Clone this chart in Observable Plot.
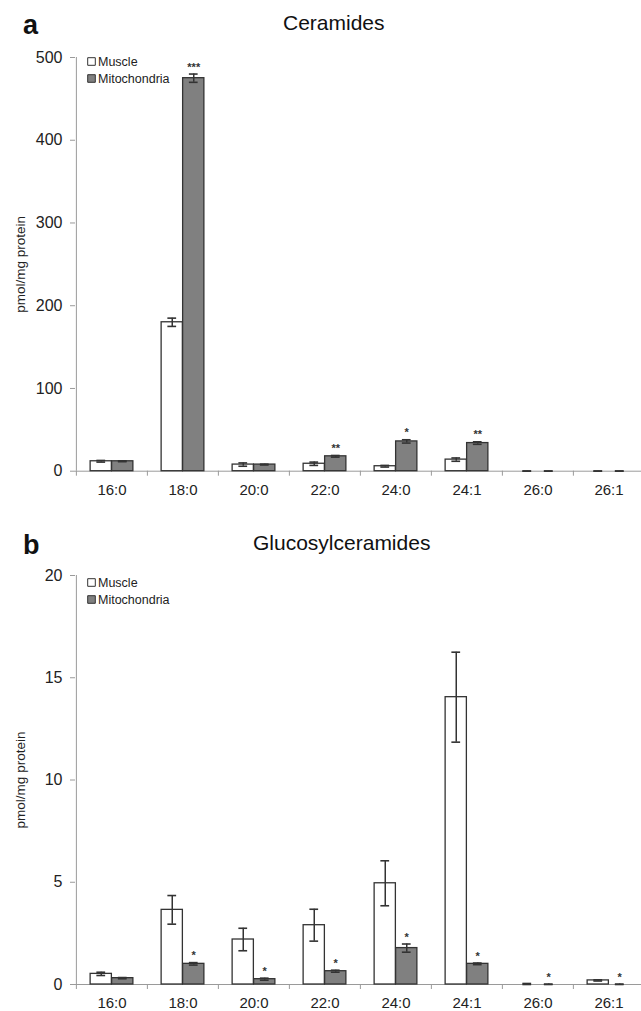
<!DOCTYPE html>
<html><head><meta charset="utf-8">
<script src="https://cdn.jsdelivr.net/npm/d3@7"></script>
<script src="https://cdn.jsdelivr.net/npm/@observablehq/plot@0.6"></script>
<style>
body{margin:0;background:#fff;font-family:"Liberation Sans",Arial,sans-serif;}
#wrap{position:relative;width:641px;height:1011px;overflow:hidden;}
.panel{position:absolute;left:0;width:641px;z-index:1;}
.letter{position:absolute;font-weight:bold;font-size:27px;line-height:27px;color:#111;z-index:2;}
.title{position:absolute;font-size:21px;line-height:21px;color:#111;z-index:2;}
</style></head>
<body><div id="wrap">
<div class="panel" id="pa" style="top:0px"></div>
<div class="panel" id="pb" style="top:505px"></div>
<div class="letter" style="left:23px;top:12px">a</div>
<div class="title" style="left:283px;top:12px">Ceramides</div>
<div class="letter" style="left:23px;top:532px">b</div>
<div class="title" style="left:253px;top:532px">Glucosylceramides</div>
</div>
<script>
const categories = ["16:0","18:0","20:0","22:0","24:0","24:1","26:0","26:1"];
const series = ["Muscle","Mitochondria"];

const ceramideMuscle    = [12, 180, 8, 9, 6, 14, 0, 0];
const ceramideMuscleErr = [1, 5, 2, 2, 1, 2, 0.3, 0.3];
const ceramideMito      = [12, 475, 8, 18, 36, 34, 0, 0];
const ceramideMitoErr   = [0.5, 5, 0.5, 1, 2, 1.5, 0.3, 0.3];
const ceramideStars     = ["", "***", "", "**", "*", "**", "", ""];
const ceramideTicks     = [0, 100, 200, 300, 400, 500];

const glucMuscle    = [0.52, 3.65, 2.2, 2.9, 4.95, 14.05, 0, 0.2];
const glucMuscleErr = [0.08, 0.7, 0.55, 0.78, 1.1, 2.2, 0.05, 0.03];
const glucMito      = [0.31, 1.01, 0.26, 0.65, 1.78, 1.01, 0, 0];
const glucMitoErr   = [0.03, 0.06, 0.05, 0.05, 0.2, 0.04, 0.02, 0.02];
const glucStars     = ["", "*", "*", "*", "*", "*", "*", "*"];
const glucTicks     = [0, 5, 10, 15, 20];

const yLabel = "pmol/mg protein";

function table(m, me, mi, mie, stars) {
  return categories.flatMap((c, i) => [
    {category: c, series: "Muscle", value: m[i], err: me[i], star: ""},
    {category: c, series: "Mitochondria", value: mi[i], err: mie[i], star: stars[i]}
  ]);
}

const xLeft = 75, xRight = 645;
const step = (xRight - xLeft) / categories.length;
const half = step / 2;
const barW = 21.5;
const capHalf = 4.5;
const ink = "#333", axisGray = "#9a9a9a", textColor = "#222";

function panel({data, yMax, ticks, height, marginTop, marginBottom, legendDy}) {
  const parts = [];
  series.forEach((s, k) => {
    const off = k === 0 ? -barW / 2 : barW / 2;
    const isS = d => d.series === s;
    parts.push(
      Plot.barY(data, {filter: d => isS(d) && d.value > 0, x: "category", y: "value", fill: "series",
        stroke: ink, strokeWidth: 1.3,
        insetLeft: k === 0 ? half - barW : half, insetRight: k === 0 ? half : half - barW}),
      Plot.ruleX(data, {filter: d => isS(d) && d.err > 0, x: "category",
        y1: d => Math.max(0, d.value - d.err), y2: d => d.value + d.err, dx: off, stroke: ink, strokeWidth: 1.5}),
      Plot.tickY(data, {filter: d => isS(d) && d.err > 0, x: "category", y: d => d.value + d.err,
        insetLeft: half + off - capHalf, insetRight: half - off - capHalf, stroke: ink, strokeWidth: 1.6}),
      Plot.tickY(data, {filter: d => isS(d) && d.err > 0, x: "category", y: d => Math.max(0, d.value - d.err),
        insetLeft: half + off - capHalf, insetRight: half - off - capHalf, stroke: ink, strokeWidth: 1.6})
    );
  });
  return Plot.plot({
    width: 641, height, marginLeft: xLeft, marginRight: 0, marginTop, marginBottom,
    style: {fontFamily: "'Liberation Sans', Arial, sans-serif", background: "transparent"},
    x: {type: "band", domain: categories, range: [xLeft, xRight], padding: 0},
    y: {domain: [0, yMax]},
    color: {domain: series, range: ["white", "#808080"]},
    marks: [
      Plot.ruleY([0], {stroke: axisGray, strokeWidth: 1}),
      Plot.ruleX([categories[0]], {x: d => d, dx: -half, y1: 0, y2: yMax, stroke: axisGray, strokeWidth: 1}),
      Plot.axisY({ticks, tickSize: 5, tickPadding: 8, fontSize: 16, stroke: axisGray, fill: textColor, label: null}),
      Plot.axisX({tickSize: 0, tickPadding: 13, fontSize: 15, fill: textColor, label: null}),
      Plot.axisX({tickSize: 5, dx: -half, tickFormat: () => "", stroke: axisGray, label: null}),
      ...parts,
      Plot.text(data, {filter: d => d.star, x: "category", y: d => d.value + d.err, text: "star",
        dx: barW / 2, dy: -7, fontSize: 11, fontWeight: "bold", fill: ink}),
      Plot.text([yLabel], {frameAnchor: "left", dx: -55, rotate: -90, textAnchor: "middle",
        lineAnchor: "middle", fontSize: 13.5, fill: textColor}),
      Plot.dot([series[0]], {frameAnchor: "top-left", dx: 16, dy: legendDy[0], symbol: "square", r: 4.3,
        fill: d => d, stroke: ink, strokeWidth: 1}),
      Plot.dot([series[1]], {frameAnchor: "top-left", dx: 16, dy: legendDy[1], symbol: "square", r: 4.3,
        fill: d => d, stroke: ink, strokeWidth: 1}),
      Plot.text([series[0]], {frameAnchor: "top-left", dx: 22.5, dy: legendDy[0], textAnchor: "start",
        lineAnchor: "middle", fontSize: 12.5, fill: textColor}),
      Plot.text([series[1]], {frameAnchor: "top-left", dx: 22.5, dy: legendDy[1], textAnchor: "start",
        lineAnchor: "middle", fontSize: 12.5, fill: textColor})
    ]
  });
}

document.getElementById("pa").append(panel({
  data: table(ceramideMuscle, ceramideMuscleErr, ceramideMito, ceramideMitoErr, ceramideStars),
  yMax: 500, ticks: ceramideTicks, height: 505, marginTop: 57, marginBottom: 34.3, legendDy: [4, 21]
}));
document.getElementById("pb").append(panel({
  data: table(glucMuscle, glucMuscleErr, glucMito, glucMitoErr, glucStars),
  yMax: 20, ticks: glucTicks, height: 506, marginTop: 70, marginBottom: 27, legendDy: [7, 24]
}));
</script>
</body></html>
